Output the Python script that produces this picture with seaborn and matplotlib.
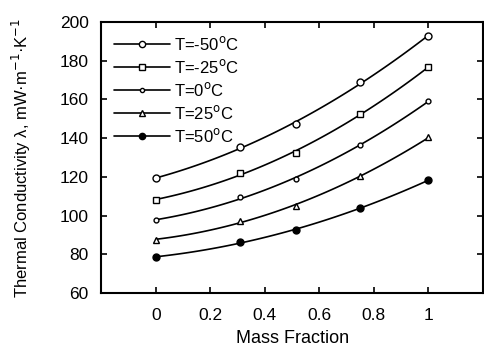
import matplotlib
matplotlib.use("Agg")
import matplotlib.pyplot as plt
import seaborn as sns
import numpy as np
import pandas as pd
from matplotlib.lines import Line2D

sns.set_theme(style="ticks")
plt.rcParams['font.family'] = ['Liberation Sans', 'DejaVu Sans']
plt.rcParams['text.color'] = 'black'
plt.rcParams['axes.labelcolor'] = 'black'

mass_fraction = [0.0, 0.31, 0.515, 0.75, 1.0]
labels = ["T=-50$^{\\mathrm{o}}$C", "T=-25$^{\\mathrm{o}}$C", "T=0$^{\\mathrm{o}}$C",
          "T=25$^{\\mathrm{o}}$C", "T=50$^{\\mathrm{o}}$C"]
k_m50 = [119.3, 135.6, 147.1, 169.2, 192.9]
k_m25 = [108.0, 122.2, 132.5, 152.3, 176.9]
k_0 = [97.5, 109.8, 119.1, 136.3, 159.3]
k_25 = [87.5, 97.2, 105.1, 120.4, 140.4]
k_50 = [78.5, 86.5, 92.5, 103.8, 118.4]
series = [k_m50, k_m25, k_0, k_25, k_50]

markers = ['o', 's', 'o', '^', 'o']
msizes = [5, 5, 3.5, 5, 5]
faces = ['white', 'white', 'white', 'white', 'black']

fig = plt.figure(figsize=(4.84, 3.56), dpi=100)
ax = fig.add_axes([0.209, 0.177, 0.789, 0.761])

handles = []
for lab, ys, m, ms, fc in zip(labels, series, markers, msizes, faces):
    df = pd.DataFrame({"x": mass_fraction, "y": ys})
    sns.regplot(data=df, x="x", y="y", order=2, ci=None, scatter=False,
                truncate=True, ax=ax, line_kws=dict(color='black', lw=1.2))
    ax.plot(df["x"], df["y"], linestyle='none', marker=m, markersize=ms,
            markerfacecolor=fc, markeredgecolor='black', markeredgewidth=1.0)
    handles.append(Line2D([], [], color='black', lw=1.2, marker=m, markersize=ms - 0.5,
                          markerfacecolor=fc, markeredgecolor='black', label=lab))

ax.set_xlim(-0.2, 1.2)
ax.set_ylim(60, 200)
ax.set_xticks([0, 0.2, 0.4, 0.6, 0.8, 1.0])
ax.set_xticklabels(["0", "0.2", "0.4", "0.6", "0.8", "1"])
ax.set_yticks(range(60, 201, 20))
ax.tick_params(direction='in', top=True, right=True, length=4, width=1.2,
               labelsize=12.5, colors='black', labelcolor='black', pad=9)
ax.tick_params(axis='x', pad=11)
for s in ax.spines.values():
    s.set_linewidth(1.5)
    s.set_color('black')
    s.set_visible(True)

ax.set_xlabel("Mass Fraction", fontsize=13, labelpad=5)
ax.set_ylabel("Thermal Conductivity λ, mW·m$^{-1}$·K$^{-1}$", fontsize=12, labelpad=19)

ax.legend(handles=handles, loc='upper left', frameon=False, fontsize=12,
          handlelength=3.4, handletextpad=0.25, labelspacing=0.3,
          borderaxespad=0.35, bbox_to_anchor=(0.0, 1.0))

fig.savefig("out.png", dpi=100)
